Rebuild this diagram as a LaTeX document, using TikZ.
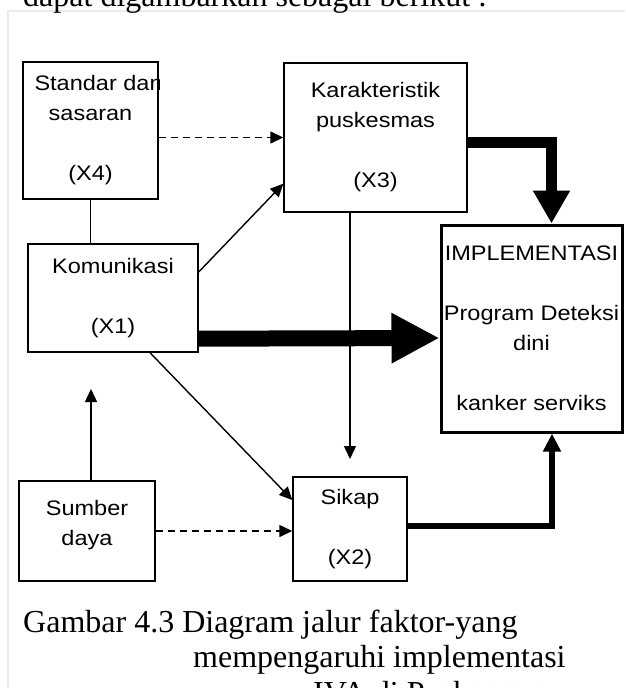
\documentclass[tikz,border=0pt]{standalone}
\usepackage{fontspec}
\setmainfont{Liberation Serif}
\newfontfamily\boxfont[FakeStretch=1.12]{Liberation Sans}
\usetikzlibrary{arrows.meta}

\tikzset{
  box/.style={draw, line width=1.4pt, align=center, inner sep=0pt,
    font=\boxfont\fontsize{21}{30}\selectfont},
  thinarr/.style={line width=1.4pt, -{Triangle[length=13pt,width=12pt]}},
  dasharr/.style={thinarr, dash pattern=on 7pt off 5pt},
  captext/.style={anchor=base west, inner sep=0pt, font=\fontsize{32}{36}\selectfont},
}

\begin{document}
\begin{tikzpicture}[x=1pt,y=-1pt]
        \useasboundingbox (0,0) rectangle (625,688);
        \draw[black!8, line width=1.5pt] (8,688) -- (8,11) -- (625,11);
        \node[captext] (intro) at (23,6) {dapat digambarkan sebagai berikut :};

        % kotak-kotak
        \begin{scope}
          \clip (10,50) rectangle (159,212);
          \node[box, minimum width=135pt, minimum height=137pt] (std) at (90.5,130.5) {\makebox[112pt][l]{Standar dan}\\sasaran\\~\\(X4)};
        \end{scope}
        \node[box, minimum width=183pt, minimum height=149pt] (kar) at (375.5,137.5) {Karakteristik\\puskesmas\\~\\(X3)};
        \node[box, minimum width=170pt, minimum height=108pt] (kom) at (113,298) {Komunikasi\\~\\(X1)};
        \node[box, line width=3pt, minimum width=181pt, minimum height=207pt] (impl) at (531.5,328.5) {IMPLEMENTASI\\~\\Program Deteksi\\dini\\~\\kanker serviks};
        \node[box, minimum width=114pt, minimum height=104pt] (sikap) at (350,529) {Sikap\\~\\(X2)};
        \node[box, minimum width=136pt, minimum height=100pt] (sumber) at (87,531) {Sumber\\daya\\[-13pt]\mbox{}};

        \coordinate (komin) at (91,389);
        \coordinate (sikapin) at (350,459);

        % jalur
        \draw[dasharr] (kar.west -| std.east) -- (kar.west);
        \draw[line width=1.4pt] (std.south) -- (std.south |- kom.north);
        \draw[thinarr] ([yshift=26pt]kom.east) -- ([yshift=29pt]kar.south west);
        \draw[line width=16pt, -{Triangle[length=48pt,width=47pt]}] ([yshift=14pt]kom.south east) -- ([yshift=-9.5pt]impl.west);
        \draw[line width=11pt, -{Triangle[length=33pt,width=35pt]}] ([yshift=-4.5pt]kar.east) -| ([xshift=20pt]impl.north);
        \draw[thinarr] (kar.south -| sikapin) -- (sikapin);
        \draw[thinarr] ([xshift=37pt]kom.south) -- ([yshift=29pt]sikap.west);
        \draw[dasharr] (sumber.east) -- (sumber.east -| sikap.west);
        \draw[thinarr] ([xshift=4pt]sumber.north) -- (komin);
        \draw[line width=6pt, -{Triangle[length=18pt,width=17pt]}] ([yshift=3pt]sikap.east) -| ([xshift=20.5pt]impl.south);

        \node[captext] (cap1) at (23,632) {Gambar 4.3 Diagram jalur faktor-yang};
        \node[captext] (cap2) at (193,667) {mempengaruhi implementasi};
        \node[captext] (cap3) at (313,703) {IVA di Puskesmas};
\end{tikzpicture}
\end{document}
